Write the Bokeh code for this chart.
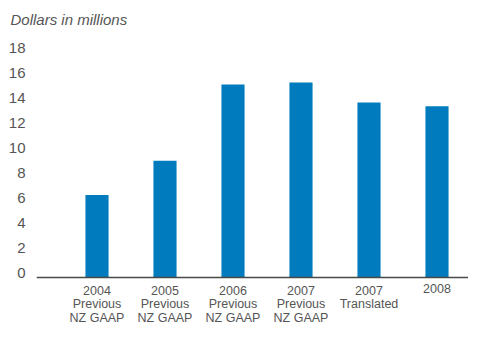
from bokeh.plotting import figure
from bokeh.models import Range1d, Span, ColumnDataSource, LinearAxis
from bokeh.core.properties import value
from bokeh.embed import file_html
from bokeh.resources import INLINE

# ---- data ----
years = ["2004", "2005", "2006", "2007", "2007", "2008"]
bases = ["Previous\nNZ GAAP", "Previous\nNZ GAAP", "Previous\nNZ GAAP",
         "Previous\nNZ GAAP", "Translated", ""]
values = [6.6, 9.35, 15.45, 15.6, 14.0, 13.7]
y_ticks = [0, 2, 4, 6, 8, 10, 12, 14, 16, 18]
title_text = "Dollars in millions"

BAR = "#007BBD"
TXT = "#555555"
FONT = "Liberation Sans"

idx = list(range(len(values)))
labels = [y + ("\n" + b if b else "") for y, b in zip(years, bases)]
src = ColumnDataSource(dict(x=idx, top=values, lab=labels, base=[0 for _ in values]))

W, H = 468, 324
left = 36
top_border = 30
px_per_cat = 68.0
base_px = 277.0           # canvas y of the zero line
top_tick_px = 52.0        # canvas y of the 18 tick
s = (base_px - top_tick_px) / y_ticks[-1]
x0 = -(96.5 - left) / px_per_cat
x1 = x0 + (W - left) / px_per_cat
y1 = (base_px - top_border) / s
y0 = -(H - base_px) / s
shift = 4.5 / s           # tick labels sit just above their tick

p = figure(width=W, height=H, output_backend="svg", toolbar_location=None,
           x_range=Range1d(x0, x1), y_range=Range1d(y0, y1),
           x_axis_location=None, y_axis_location=None,
           min_border_left=left, min_border_right=0, min_border_top=top_border,
           min_border_bottom=0)
p.extra_y_ranges = {"lab": Range1d(y0 - shift, y1 - shift)}
p.grid.visible = False
p.outline_line_color = None

ax = LinearAxis(y_range_name="lab", ticker=y_ticks)
ax.axis_line_color = None
ax.major_tick_line_color = None
ax.minor_tick_line_color = None
ax.major_tick_in = 0
ax.major_tick_out = 0
ax.major_label_standoff = 11
ax.major_label_text_font_size = "15px"
ax.major_label_text_font = FONT
ax.major_label_text_color = TXT
p.add_layout(ax, "left")

p.title.text = title_text
p.title.align = "left"
p.title.offset = -26
p.title.standoff = 6
p.title.text_font = FONT
p.title.text_font_size = "15px"
p.title.text_font_style = "italic"
p.title.text_color = TXT

p.vbar(x="x", top="top", width=0.34, source=src, fill_color=BAR, line_color=None)

p.add_layout(Span(location=0, dimension="width", line_color="#4a4a4a", line_width=1.5))

p.text(x="x", y="base", text="lab", source=src, text_align="center", text_baseline="top",
       y_offset=6, text_font_size="12.5px", text_font=value(FONT), text_color=TXT,
       text_line_height=0.97)

open("out.html", "w").write(file_html(p, INLINE))
